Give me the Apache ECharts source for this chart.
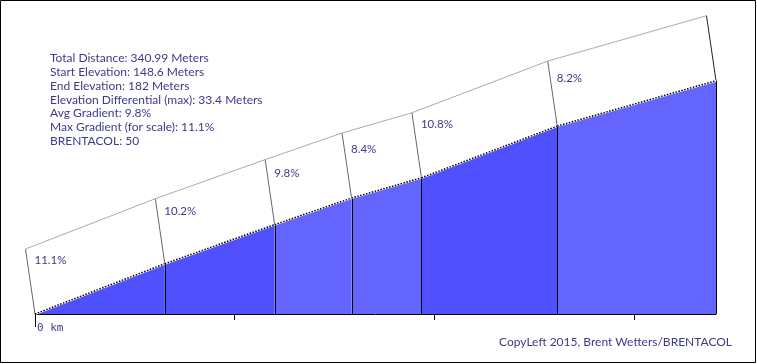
<!DOCTYPE html>
<html>
<head>
<meta charset="utf-8">
<script src="https://cdn.jsdelivr.net/npm/echarts@6/dist/echarts.min.js"></script>
<style>
html,body{margin:0;padding:0;background:#fff;}
#chart{width:757px;height:364px;}
</style>
</head>
<body>
<div id="chart"></div>
<script>
// ---- data ----
const distances = [0, 65, 120, 158.5, 193.5, 261.5, 340.99];        // meters along route (segment boundaries)
const elevations = [148.6, 155.8, 161.4, 165.2, 168.1, 175.5, 182];  // meters at boundaries
const gradients = [11.1, 10.2, 9.8, 8.4, 10.8, 8.2];                 // % per segment
const xTickValues = [0, 100, 200, 300];
const xTickLabels = ['0 km', '', '', ''];
const infoLines = [
  'Total Distance: 340.99 Meters',
  'Start Elevation: 148.6 Meters',
  'End Elevation: 182 Meters',
  'Elevation Differential (max): 33.4 Meters',
  'Avg Gradient: 9.8%',
  'Max Gradient (for scale): 11.1%',
  'BRENTACOL: 50'
];
const creditText = 'CopyLeft 2015, Brent Wetters/BRENTACOL';

// ---- styles ----
const TEXT = '#3d3a8c';
const FONT = 'Lato, "Open Sans", sans-serif';
const DARK_FILL = '#5050ff';
const LIGHT_FILL = '#6464ff';
const RIB_DX = -9.5, RIB_DY = -65;
const yMin = elevations[0];

const segData = gradients.map((g, i) => [distances[i], elevations[i], distances[i + 1], elevations[i + 1], g]);

const chart = echarts.init(document.getElementById('chart'), null, {renderer: 'canvas'});

function renderItem(params, api) {
  const i = params.dataIndex;
  const last = i === segData.length - 1;
  const x0 = api.value(0), y0 = api.value(1), x1 = api.value(2), y1 = api.value(3), g = api.value(4);
  const p0 = api.coord([x0, y0]), p1 = api.coord([x1, y1]);
  const b0 = api.coord([x0, yMin]), b1 = api.coord([x1, yMin]);
  const u0 = [p0[0] + RIB_DX, p0[1] + RIB_DY], u1 = [p1[0] + RIB_DX, p1[1] + RIB_DY];
  const ch = [];
  ch.push({type: 'polygon', shape: {points: [b0, p0, p1, b1]}, style: {fill: g >= 10 ? DARK_FILL : LIGHT_FILL}});
  if (i > 0) ch.push({type: 'line', shape: {x1: Math.round(b0[0]) + 0.5, y1: b0[1], x2: Math.round(p0[0]) + 0.5, y2: p0[1]}, style: {stroke: '#000', lineWidth: 1}});
  if (last) ch.push({type: 'line', shape: {x1: Math.round(b1[0]) + 0.5, y1: b1[1], x2: Math.round(p1[0]) + 0.5, y2: p1[1]}, style: {stroke: '#000', lineWidth: 1}});
  if (i === 0) ch.push({type: 'line', shape: {x1: Math.round(b0[0]) + 0.5, y1: b0[1], x2: Math.round(b0[0]) + 0.5, y2: b0[1] + 13}, style: {stroke: '#000', lineWidth: 1}});
  // ribbon
  ch.push({type: 'line', shape: {x1: p0[0], y1: p0[1], x2: u0[0], y2: u0[1]}, style: {stroke: '#666', lineWidth: 1}});
  ch.push({type: 'line', shape: {x1: u0[0], y1: u0[1], x2: u1[0], y2: u1[1]}, style: {stroke: '#aaa', lineWidth: 1}});
  if (last) ch.push({type: 'line', shape: {x1: p1[0], y1: p1[1], x2: u1[0], y2: u1[1]}, style: {stroke: '#222', lineWidth: 1}});
  // profile line
  ch.push({type: 'line', shape: {x1: p0[0], y1: p0[1], x2: p1[0], y2: p1[1]}, style: {stroke: '#fff', lineWidth: 2}});
  ch.push({type: 'line', shape: {x1: p0[0], y1: p0[1], x2: p1[0], y2: p1[1]}, style: {stroke: '#000', lineWidth: 1.5, lineDash: [1.5, 1.5]}});
  // label
  ch.push({type: 'text', style: {text: g.toFixed(1) + '%', x: p0[0] - 0.5, y: u0[1] + 11 + (11.1 - g) * 2,
    fill: TEXT, font: '11.5px ' + FONT, textAlign: 'left', textVerticalAlign: 'middle'}});
  return {type: 'group', children: ch};
}

const graphics = [
  {type: 'rect', shape: {x: 0.5, y: 0.5, width: 755, height: 362}, style: {fill: 'none', stroke: '#000', lineWidth: 1}, z: 100}
];
infoLines.forEach((t, k) => graphics.push({
  type: 'text', left: 50, top: 52 + k * 13.9,
  style: {text: t, fill: TEXT, font: '12px ' + FONT}
}));
graphics.push({type: 'text', right: 25, top: 336, style: {text: creditText, fill: TEXT, font: '12px ' + FONT}});

chart.setOption({
  animation: false,
  grid: {left: 35, right: 41, top: 24.8, bottom: 50},
  xAxis: {
    type: 'value', min: 0, max: distances[distances.length - 1], interval: 100,
    axisLine: {show: true, lineStyle: {color: '#000', width: 1}},
    axisTick: {show: true, length: 6, lineStyle: {color: '#000'}},
    splitLine: {show: false},
    axisLabel: {
      showMaxLabel: false,
      formatter: v => { const k = xTickValues.indexOf(v); return k >= 0 ? xTickLabels[k] : ''; },
      align: 'left', padding: [0, 0, 0, 2], margin: 9,
      fontFamily: '"DejaVu Sans Mono", monospace', fontSize: 11, color: TEXT
    }
  },
  yAxis: {type: 'value', min: yMin, max: 190, show: false, splitLine: {show: false}},
  series: [{type: 'custom', renderItem, data: segData, clip: false, z: 2}],
  graphic: graphics
});
</script>
</body>
</html>
